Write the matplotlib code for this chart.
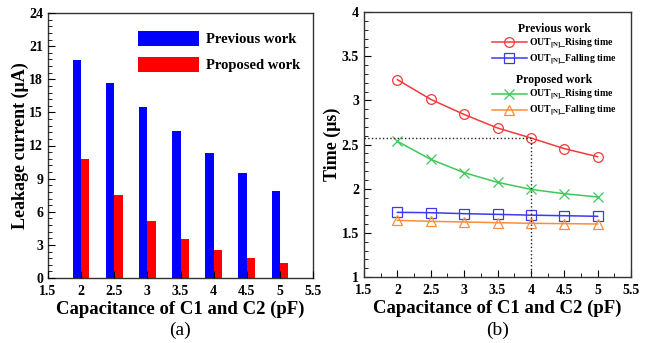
import numpy as np
import matplotlib
matplotlib.use('Agg')
import matplotlib.pyplot as plt
from matplotlib.ticker import MultipleLocator, FormatStrFormatter

plt.rcParams['font.family'] = 'Liberation Serif'
plt.rcParams['font.weight'] = 'bold'
plt.rcParams['mathtext.fontset'] = 'custom'
plt.rcParams['mathtext.rm'] = 'Liberation Serif:bold'
plt.rcParams['mathtext.it'] = 'Liberation Serif:bold'
plt.rcParams['mathtext.bf'] = 'Liberation Serif:bold'

# data
cap = [2, 2.5, 3, 3.5, 4, 4.5, 5]
leak_prev = [19.7, 17.65, 15.5, 13.3, 11.3, 9.48, 7.88]
leak_prop = [10.75, 7.49, 5.16, 3.56, 2.5, 1.84, 1.36]

rise_prev = [3.234, 3.011, 2.84, 2.687, 2.574, 2.453, 2.362]
fall_prev = [1.732, 1.728, 1.717, 1.709, 1.70, 1.694, 1.687]
rise_prop = [2.536, 2.332, 2.181, 2.072, 1.992, 1.943, 1.906]
fall_prop = [1.642, 1.630, 1.623, 1.615, 1.608, 1.604, 1.60]

ref_cap = 4
ref_time = 2.574

fig = plt.figure(figsize=(6.5, 3.43), dpi=100)
ax1 = fig.add_axes([48/650, 1-278/343, 265/650, 265/343])
ax2 = fig.add_axes([364/650, 1-277/343, 267/650, 265/343])

# (a) bars
w = 0.125
ax1.bar(np.array(cap) - w, leak_prev, width=w, align='edge', color='#0000ff', label='Previous work')
ax1.bar(cap, leak_prop, width=w, align='edge', color='#ff0000', label='Proposed work')
ax1.set_xlim(1.5, 5.5)
ax1.set_ylim(0, 24)
ax1.yaxis.set_major_locator(MultipleLocator(3))
ax1.yaxis.set_minor_locator(MultipleLocator(0.6))
ax1.xaxis.set_major_locator(MultipleLocator(0.5))
ax1.xaxis.set_major_formatter(FormatStrFormatter('%g'))
ax1.set_ylabel('Leakage current (μA)', fontsize=13, fontweight='bold', labelpad=0)
ax1.set_xlabel('Capacitance of C1 and C2 (pF)', fontsize=13.5, fontweight='bold', labelpad=2)
ax1.legend(loc='upper right', frameon=False, fontsize=10.5, handlelength=4.2, handleheight=1.2,
           labelspacing=0.75, handletextpad=0.5, borderaxespad=0, bbox_to_anchor=(0.975, 0.955))
ax1.set_axisbelow(False)

# (b) lines
ax2.plot(cap, rise_prev, '-o', color='#f23a3a', mfc='none', ms=7, lw=1.1, mew=0.9)
ax2.plot(cap, fall_prev, '-s', color='#3a3af2', mfc='none', ms=7, lw=1.1, mew=0.9)
ax2.plot(cap, rise_prop, '-x', color='#3ec85a', ms=7, lw=1.1, mew=0.9)
ax2.plot(cap, fall_prop, '-^', color='#ff8c3c', mfc='none', ms=7, lw=1.1, mew=0.9)
ax2.plot([1.5, ref_cap], [ref_time, ref_time], ':', color='#222222', lw=1)
ax2.plot([ref_cap, ref_cap], [1, ref_time], ':', color='#222222', lw=1)
ax2.set_xlim(1.5, 5.5)
ax2.set_ylim(1, 4)
ax2.yaxis.set_major_locator(MultipleLocator(0.5))
ax2.yaxis.set_minor_locator(MultipleLocator(0.1))
ax2.yaxis.set_major_formatter(FormatStrFormatter('%g'))
ax2.xaxis.set_major_locator(MultipleLocator(0.5))
ax2.xaxis.set_minor_locator(MultipleLocator(0.25))
ax2.xaxis.set_major_formatter(FormatStrFormatter('%g'))
ax2.set_ylabel('Time (μs)', fontsize=13, fontweight='bold', labelpad=0.5)
ax2.set_xlabel('Capacitance of C1 and C2 (pF)', fontsize=13.5, fontweight='bold', labelpad=2)

lines = ax2.get_lines()
lab_r = r'OUT$_{\mathrm{[N]}}$_Rising time'
lab_f = r'OUT$_{\mathrm{[N]}}$_Falling time'
leg_kw = dict(loc='upper right', frameon=False, fontsize=7, handlelength=3.6, handletextpad=0.2,
              labelspacing=0.2, borderaxespad=0, title_fontproperties={'weight': 'bold', 'size': 8.5})
leg1 = ax2.legend(lines[0:2], [lab_r, lab_f], title='Previous work',
                  bbox_to_anchor=(0.96, 0.975), **leg_kw)
ax2.add_artist(leg1)
ax2.legend(lines[2:4], [lab_r, lab_f], title='Proposed work',
           bbox_to_anchor=(0.96, 0.78), **leg_kw)

for ax in (ax1, ax2):
    ax.tick_params(which='both', direction='in', top=False, right=False, labelsize=10)
    ax.tick_params(which='major', length=5)
    ax.tick_params(which='minor', length=3)
    ax.tick_params(axis='x', pad=5)
    for lab in ax.get_xticklabels() + ax.get_yticklabels():
        lab.set_fontweight('bold')
    for s in ax.spines.values():
        s.set_color('#333333')
        s.set_linewidth(1)

# panel captions
fig.text((48 + 313) / 2 / 650, 1 - 330 / 343, '(a)', ha='center', va='center', fontsize=14, fontweight='normal')
fig.text((364 + 631) / 2 / 650, 1 - 330 / 343, '(b)', ha='center', va='center', fontsize=14, fontweight='normal')

fig.savefig('out.png', dpi=100)
